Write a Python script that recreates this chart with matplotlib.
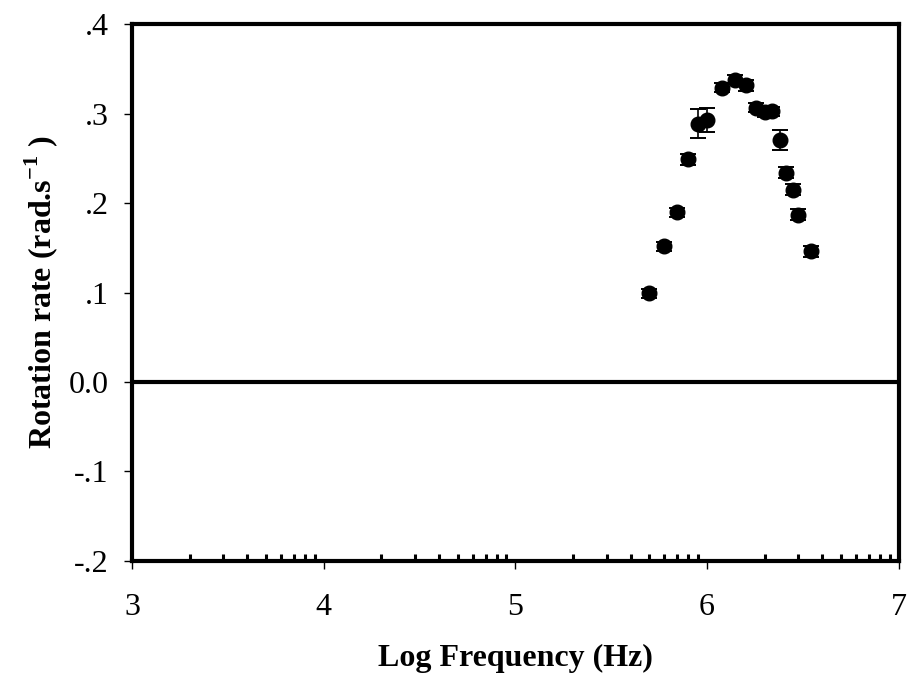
import numpy as np
import matplotlib
matplotlib.use("Agg")
import matplotlib.pyplot as plt
from matplotlib.ticker import FixedLocator

plt.rcParams['font.family'] = ['Liberation Serif', 'DejaVu Serif']
plt.rcParams['mathtext.fontset'] = 'custom'
plt.rcParams['mathtext.rm'] = 'Liberation Serif'
plt.rcParams['mathtext.bf'] = 'Liberation Serif:bold'

# Data
log_freq = [5.699, 5.778, 5.845, 5.903, 5.954, 6.000, 6.079, 6.146, 6.204,
            6.255, 6.301, 6.342, 6.380, 6.415, 6.447, 6.477, 6.544]
rotation = [0.099, 0.152, 0.190, 0.249, 0.289, 0.293, 0.329, 0.338, 0.332,
            0.307, 0.302, 0.303, 0.271, 0.234, 0.215, 0.187, 0.146]
err = [0.005, 0.005, 0.005, 0.006, 0.016, 0.013, 0.005, 0.005, 0.006,
       0.005, 0.005, 0.005, 0.011, 0.006, 0.006, 0.006, 0.006]

y_ticks = [-0.2, -0.1, 0.0, 0.1, 0.2, 0.3, 0.4]
y_labels = ['-.2', '-.1', '0.0', '.1', '.2', '.3', '.4']
x_ticks = [3, 4, 5, 6, 7]

fig = plt.figure(figsize=(9.11, 6.9), dpi=100)
ax = fig.add_axes([0.1449, 0.1874, 0.8414, 0.7771])

ax.axhline(0, color='black', lw=3, zorder=1)
ax.errorbar(log_freq, rotation, yerr=err, fmt='o', color='black',
            markersize=10.5, elinewidth=1.2, capsize=5.8, capthick=1.4, zorder=3)

ax.set_xlim(3, 7)
ax.set_ylim(-0.2, 0.4)

for s in ax.spines.values():
    s.set_linewidth(3)

ax.set_xticks(x_ticks)
ax.set_xticklabels([str(t) for t in x_ticks])
ax.set_yticks(y_ticks)
ax.set_yticklabels(y_labels)

# log-style minor ticks along the bottom
minor = [d + np.log10(k) for d in range(3, 7) for k in range(2, 10)]
ax.xaxis.set_minor_locator(FixedLocator(minor))
ax.tick_params(axis='x', which='minor', direction='in', length=5, width=2.2,
               top=False)
ax.tick_params(axis='both', which='major', direction='out', length=6, width=1,
               labelsize=23, colors='black')
ax.tick_params(axis='x', which='major', pad=17)
ax.tick_params(axis='y', which='major', pad=11)

ax.set_xlabel('Log Frequency (Hz)', fontsize=23, fontweight='bold', labelpad=16)
ax.set_ylabel(r'Rotation rate (rad.s$^{\mathbf{-1}}$ )', fontsize=23,
              fontweight='bold', labelpad=6)

fig.savefig('out.png', dpi=100)
